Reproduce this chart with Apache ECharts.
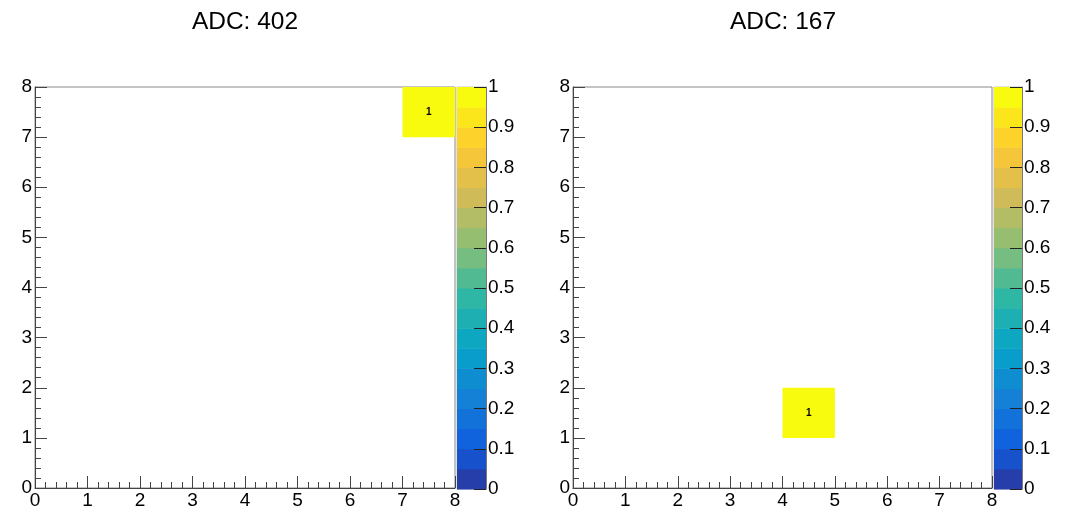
<!DOCTYPE html>
<html>
<head>
<meta charset="utf-8">
<script src="https://cdn.jsdelivr.net/npm/echarts@6/dist/echarts.min.js"></script>
<style>
  html, body { margin: 0; padding: 0; background: #fff; }
  #chart { width: 1073px; height: 510px; }
</style>
</head>
<body>
<div id="chart"></div>
<script>
// Panel titles
const titles = ['ADC: 402', 'ADC: 167'];
// Filled bins per panel: [xBin, yBin, entries]
const binsLeft = [[7, 7, 1]];
const binsRight = [[4, 1, 1]];
// Colour-bar contour edges (20 bands from 0 to 1)
const paletteLevels = [0, 0.05, 0.1, 0.15, 0.2, 0.25, 0.3, 0.35, 0.4, 0.45, 0.5,
                       0.55, 0.6, 0.65, 0.7, 0.75, 0.8, 0.85, 0.9, 0.95, 1];
// Axis ranges
const axisMax = 8;
const zMin = 0, zMax = 1;

// "Bird" palette gradient stops
const birdStops = [0.0, 0.125, 0.25, 0.375, 0.5, 0.625, 0.75, 0.875, 1.0];
const birdR = [0.2082, 0.0592, 0.0780, 0.0232, 0.1802, 0.5301, 0.8186, 0.9956, 0.9764];
const birdG = [0.1664, 0.3599, 0.5041, 0.6419, 0.7178, 0.7492, 0.7328, 0.7862, 0.9832];
const birdB = [0.5293, 0.8684, 0.8385, 0.7914, 0.6425, 0.4662, 0.3499, 0.1968, 0.0539];

function birdColor(f) {
  f = Math.max(0, Math.min(1, f));
  let i = 0;
  while (i < birdStops.length - 2 && f > birdStops[i + 1]) i++;
  const t = (f - birdStops[i]) / (birdStops[i + 1] - birdStops[i]);
  const c = (arr) => Math.round(255 * (arr[i] + t * (arr[i + 1] - arr[i])));
  return 'rgb(' + c(birdR) + ',' + c(birdG) + ',' + c(birdB) + ')';
}
const nBands = paletteLevels.length - 1;
// colour of band k: sampled near the top of the band
function bandColor(k) { return birdColor((k + 0.99) / nBands); }
function valueColor(v) {
  let k = 0;
  while (k < nBands - 1 && v >= paletteLevels[k + 1]) k++;
  return bandColor(k);
}

const FONT = '"Liberation Sans", Arial, Helvetica, sans-serif';
const AXIS_COLOR = '#444';
const LABEL_SIZE = 19;

const bandData = [];
for (let k = 0; k < nBands; k++) bandData.push([paletteLevels[k], paletteLevels[k + 1], k]);

function frameAxes(gridIndex) {
  const common = {
    gridIndex, type: 'value', min: 0, max: axisMax, interval: 1,
    axisLine: { show: true, onZero: false, lineStyle: { color: AXIS_COLOR, width: 1 } },
    axisTick: { show: true, inside: true, length: 12, lineStyle: { color: AXIS_COLOR } },
    minorTick: { show: true, splitNumber: 5, length: 6, lineStyle: { color: AXIS_COLOR } },
    splitLine: { show: false },
    axisLabel: { color: '#000', fontFamily: FONT, fontSize: LABEL_SIZE, margin: 3 }
  };
  return {
    x: Object.assign({}, common, { position: 'bottom' }),
    y: Object.assign({}, common, { position: 'left' })
  };
}

function paletteAxes(gridIndex) {
  return {
    x: { gridIndex, type: 'value', min: 0, max: 1, show: false },
    y: {
      gridIndex, type: 'value', min: zMin, max: zMax, interval: 0.1, position: 'right', z: 10,
      axisLine: { show: true, onZero: false, lineStyle: { color: '#777', width: 1 } },
      axisTick: { show: true, inside: true, length: 12, lineStyle: { color: '#222' } },
      splitLine: { show: false },
      axisLabel: { color: '#000', fontFamily: FONT, fontSize: LABEL_SIZE, margin: 2 }
    }
  };
}

const fL = frameAxes(0), fR = frameAxes(1), pL = paletteAxes(2), pR = paletteAxes(3);

function binRenderer(params, api) {
  const x = api.value(0), y = api.value(1), v = api.value(2);
  const p0 = api.coord([x, y + 1]);
  const p1 = api.coord([x + 1, y]);
  return {
    type: 'group',
    children: [
      { type: 'rect', shape: { x: p0[0], y: p0[1], width: p1[0] - p0[0], height: p1[1] - p0[1] },
        style: { fill: valueColor(v) } },
      { type: 'text', style: { text: String(v), x: (p0[0] + p1[0]) / 2, y: (p0[1] + p1[1]) / 2,
        align: 'center', verticalAlign: 'middle', fill: '#000', font: 'bold 10px ' + FONT } }
    ]
  };
}

function bandRenderer(params, api) {
  const lo = api.value(0), hi = api.value(1), k = api.value(2);
  const p0 = api.coord([0, hi]);
  const p1 = api.coord([1, lo]);
  return { type: 'rect', shape: { x: p0[0], y: p0[1], width: p1[0] - p0[0], height: p1[1] - p0[1] + 0.5 },
    style: { fill: bandColor(k) } };
}

const chart = echarts.init(document.getElementById('chart'), null, { renderer: 'canvas' });
chart.setOption({
  backgroundColor: '#fff',
  animation: false,
  title: [
    { text: titles[0], left: 240, top: 5, textAlign: 'center',
      textStyle: { fontFamily: FONT, fontSize: 24.5, fontWeight: 'normal', color: '#000' } },
    { text: titles[1], left: 778, top: 5, textAlign: 'center',
      textStyle: { fontFamily: FONT, fontSize: 24.5, fontWeight: 'normal', color: '#000' } }
  ],
  grid: [
    { left: 35, top: 87, width: 420, height: 402, show: true, borderColor: '#888', borderWidth: 1, backgroundColor: 'transparent' },
    { left: 573, top: 87, width: 419, height: 402, show: true, borderColor: '#888', borderWidth: 1, backgroundColor: 'transparent' },
    { left: 457, top: 87, width: 29, height: 402, show: true, borderColor: '#888', borderWidth: 0.5, backgroundColor: 'transparent' },
    { left: 994, top: 87, width: 28, height: 402, show: true, borderColor: '#888', borderWidth: 0.5, backgroundColor: 'transparent' }
  ],
  xAxis: [fL.x, fR.x, pL.x, pR.x],
  yAxis: [fL.y, fR.y, pL.y, pR.y],
  series: [
    { type: 'custom', xAxisIndex: 0, yAxisIndex: 0, data: binsLeft, renderItem: binRenderer, silent: true },
    { type: 'custom', xAxisIndex: 1, yAxisIndex: 1, data: binsRight, renderItem: binRenderer, silent: true },
    { type: 'custom', xAxisIndex: 2, yAxisIndex: 2, data: bandData, renderItem: bandRenderer, silent: true },
    { type: 'custom', xAxisIndex: 3, yAxisIndex: 3, data: bandData, renderItem: bandRenderer, silent: true }
  ]
});
</script>
</body>
</html>
